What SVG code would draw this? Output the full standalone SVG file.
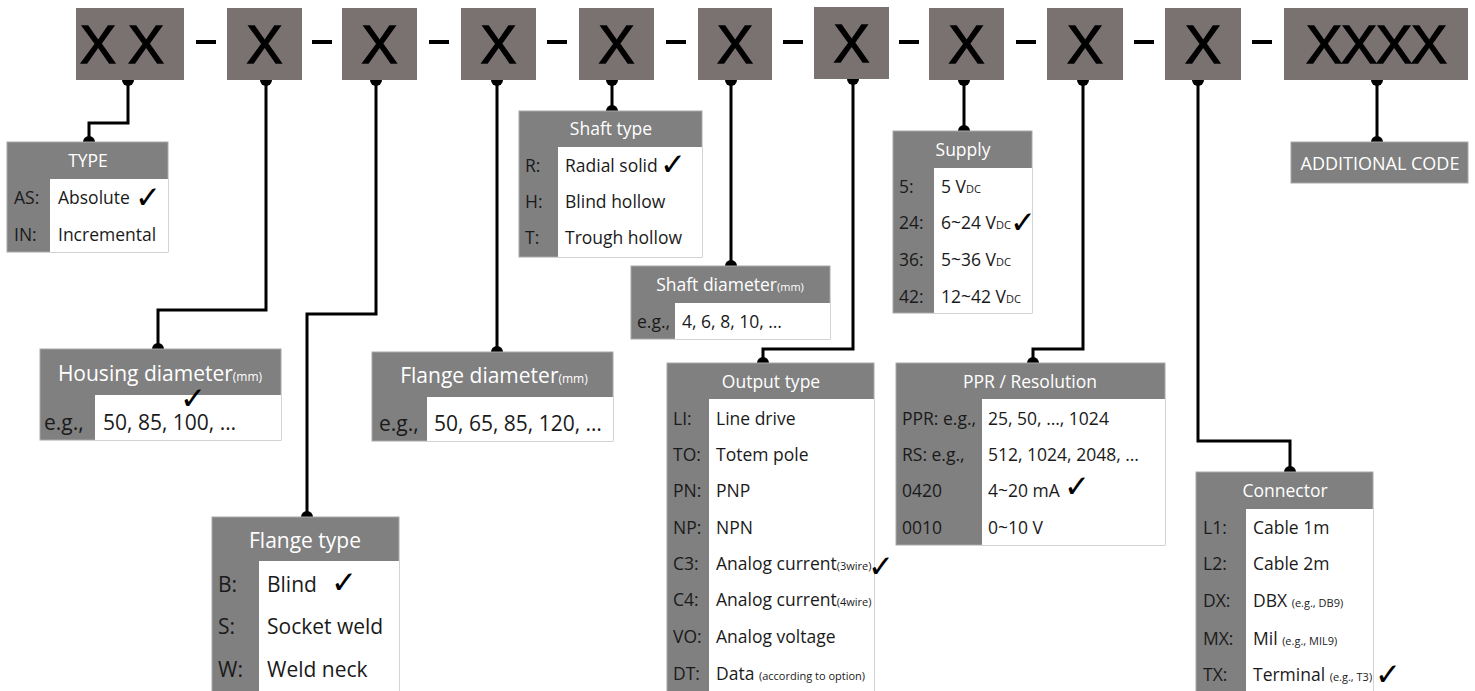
<svg xmlns="http://www.w3.org/2000/svg" width="1475" height="691" viewBox="0 0 1475 691">
<defs>
<style>
.code{fill:#7a7171}
.big{font-family:"Liberation Sans",Arial,sans-serif;font-size:54px;fill:#000;stroke:#000;stroke-width:1.3;text-anchor:middle}
.dash{fill:#000}
.hd{fill:#808080;stroke:#a8a8a8;stroke-width:1}
.wh{fill:#fff}
.ttl{font-family:"Open Sans",sans-serif;font-size:17.5px;fill:#fff;text-anchor:middle}
.ttlL{font-family:"Open Sans",sans-serif;font-size:21px;fill:#fff;text-anchor:middle}
.lb{font-family:"Open Sans",sans-serif;font-size:17.5px;fill:#1a1a1a}
.lbL{font-family:"Open Sans",sans-serif;font-size:21px;fill:#1a1a1a}
.sm{font-size:11px}
.smT{font-size:12px}
.chk{font-family:"DejaVu Sans",sans-serif;font-size:31px;fill:#000}
.ln{fill:none;stroke:#000;stroke-width:3;marker-start:url(#dot);marker-end:url(#dot)}
</style>
<marker id="dot" viewBox="-6 -6 12 12" markerWidth="12" markerHeight="12" markerUnits="userSpaceOnUse" refX="0" refY="0">
<circle r="6" fill="#000"/>
</marker>
</defs>
<rect width="1475" height="691" fill="#fff"/>

<g id="connectors">
<path class="ln" d="M128,80 V123 H89 V142"/>
<path class="ln" d="M266,80 V310 H158 V349"/>
<path class="ln" d="M376,80 V314 H307 V517"/>
<path class="ln" d="M497,80 V352"/>
<path class="ln" d="M612,80 V111"/>
<path class="ln" d="M731,80 V266"/>
<path class="ln" d="M853,79 V349 H763 V363"/>
<path class="ln" d="M964,80 V131"/>
<path class="ln" d="M1083,80 V349 H1033 V363"/>
<path class="ln" d="M1198,80 V441 H1290 V472"/>
<path class="ln" d="M1377,80 V142"/>
</g>

<g id="code">
<rect class="code" x="76" y="8" width="108" height="72"/>
<text class="big" x="128" y="63" letter-spacing="12">XX</text>
<rect class="dash" x="196" y="40" width="20" height="4"/>
<rect class="code" x="227" y="8" width="75" height="72"/>
<text class="big" x="264.5" y="63">X</text>
<rect class="dash" x="312" y="40" width="20" height="4"/>
<rect class="code" x="342" y="8" width="75" height="72"/>
<text class="big" x="379.5" y="63">X</text>
<rect class="dash" x="429" y="40" width="20" height="4"/>
<rect class="code" x="461" y="8" width="75" height="72"/>
<text class="big" x="498.5" y="63">X</text>
<rect class="dash" x="547" y="40" width="20" height="4"/>
<rect class="code" x="579" y="8" width="75" height="72"/>
<text class="big" x="616.5" y="63">X</text>
<rect class="dash" x="666" y="40" width="20" height="4"/>
<rect class="code" x="698" y="8" width="74" height="72"/>
<text class="big" x="735" y="63">X</text>
<rect class="dash" x="783" y="40" width="20" height="4"/>
<rect class="code" x="814" y="7" width="75" height="72"/>
<text class="big" x="851.5" y="62">X</text>
<rect class="dash" x="899" y="40" width="20" height="4"/>
<rect class="code" x="929" y="8" width="75" height="72"/>
<text class="big" x="966.5" y="63">X</text>
<rect class="dash" x="1016" y="40" width="20" height="4"/>
<rect class="code" x="1047" y="8" width="76" height="72"/>
<text class="big" x="1085" y="63">X</text>
<rect class="dash" x="1134" y="40" width="20" height="4"/>
<rect class="code" x="1165" y="8" width="76" height="72"/>
<text class="big" x="1203" y="63">X</text>
<rect class="dash" x="1252" y="40" width="20" height="4"/>
<rect class="code" x="1284" y="8" width="184" height="72"/>
<text class="big" x="1376" y="63" letter-spacing="-1">XXXX</text>
</g>

<g id="type">
<rect class="hd" x="7" y="142" width="161" height="110"/>
<rect class="wh" x="50" y="179" width="118" height="73"/>
<text class="ttl" x="88" y="167">TYPE</text>
<text class="lb" x="14" y="204">AS:</text>
<text class="lb" x="58" y="204">Absolute</text>
<text class="chk" x="135" y="208">✓</text>
<text class="lb" x="14" y="241">IN:</text>
<text class="lb" x="58" y="241">Incremental</text>
</g>

<g id="housing-diameter">
<rect class="hd" x="40" y="349" width="241" height="91"/>
<rect class="wh" x="95" y="395" width="186" height="45"/>
<text class="ttlL" x="160" y="381">Housing diameter<tspan class="smT">(mm)</tspan></text>
<text class="lbL" x="44" y="430">e.g.,</text>
<text class="lbL" x="103" y="430">50, 85, 100, …</text>
<text class="chk" x="180" y="409">✓</text>
</g>

<g id="flange-type">
<rect class="hd" x="212" y="517" width="187" height="176"/>
<rect class="wh" x="259" y="561" width="140" height="132"/>
<text class="ttlL" x="305" y="548">Flange type</text>
<text class="lbL" x="218" y="592">B:</text>
<text class="lbL" x="267" y="592">Blind</text>
<text class="chk" x="331" y="593">✓</text>
<text class="lbL" x="218" y="634">S:</text>
<text class="lbL" x="267" y="634">Socket weld</text>
<text class="lbL" x="218" y="677">W:</text>
<text class="lbL" x="267" y="677">Weld neck</text>
</g>

<g id="flange-diameter">
<rect class="hd" x="372" y="352" width="241" height="89"/>
<rect class="wh" x="427" y="397" width="186" height="44"/>
<text class="ttlL" x="494" y="383">Flange diameter<tspan class="smT">(mm)</tspan></text>
<text class="lbL" x="379" y="431">e.g.,</text>
<text class="lbL" x="434" y="431">50, 65, 85, 120, …</text>
</g>

<g id="shaft-type">
<rect class="hd" x="519" y="111" width="183" height="146"/>
<rect class="wh" x="558" y="147" width="144" height="110"/>
<text class="ttl" x="611" y="135">Shaft type</text>
<text class="lb" x="525" y="172">R:</text>
<text class="lb" x="565" y="172">Radial solid</text>
<text class="chk" x="660" y="175">✓</text>
<text class="lb" x="525" y="208">H:</text>
<text class="lb" x="565" y="208">Blind hollow</text>
<text class="lb" x="525" y="244">T:</text>
<text class="lb" x="565" y="244">Trough hollow</text>
</g>

<g id="shaft-diameter">
<rect class="hd" x="631" y="266" width="199" height="73"/>
<rect class="wh" x="675" y="303" width="155" height="36"/>
<text class="ttl" x="730" y="291">Shaft diameter<tspan class="sm">(mm)</tspan></text>
<text class="lb" x="637" y="328">e.g.,</text>
<text class="lb" x="682" y="328">4, 6, 8, 10, …</text>
</g>

<g id="output-type">
<rect class="hd" x="667" y="363" width="207" height="330"/>
<rect class="wh" x="709" y="399" width="165" height="294"/>
<text class="ttl" x="771" y="388">Output type</text>
<text class="lb" x="673" y="425">LI:</text>
<text class="lb" x="716" y="425">Line drive</text>
<text class="lb" x="673" y="461">TO:</text>
<text class="lb" x="716" y="461">Totem pole</text>
<text class="lb" x="673" y="497">PN:</text>
<text class="lb" x="716" y="497">PNP</text>
<text class="lb" x="673" y="534">NP:</text>
<text class="lb" x="716" y="534">NPN</text>
<text class="lb" x="673" y="570">C3:</text>
<text class="lb" x="716" y="570">Analog current<tspan class="sm">(3wire)</tspan></text>
<text class="chk" x="868" y="577">✓</text>
<text class="lb" x="673" y="606">C4:</text>
<text class="lb" x="716" y="606">Analog current<tspan class="sm">(4wire)</tspan></text>
<text class="lb" x="673" y="643">VO:</text>
<text class="lb" x="716" y="643">Analog voltage</text>
<text class="lb" x="673" y="680">DT:</text>
<text class="lb" x="716" y="680">Data <tspan class="sm">(according to option)</tspan></text>
</g>

<g id="supply">
<rect class="hd" x="893" y="131" width="139" height="182"/>
<rect class="wh" x="934" y="168" width="98" height="145"/>
<text class="ttl" x="963" y="156">Supply</text>
<text class="lb" x="899" y="193">5:</text>
<text class="lb" x="941" y="193">5 V<tspan class="sm">DC</tspan></text>
<text class="lb" x="899" y="229">24:</text>
<text class="lb" x="941" y="229">6~24 V<tspan class="sm">DC</tspan></text>
<text class="chk" x="1010" y="233">✓</text>
<text class="lb" x="899" y="266">36:</text>
<text class="lb" x="941" y="266">5~36 V<tspan class="sm">DC</tspan></text>
<text class="lb" x="899" y="303">42:</text>
<text class="lb" x="941" y="303">12~42 V<tspan class="sm">DC</tspan></text>
</g>

<g id="ppr-resolution">
<rect class="hd" x="896" y="363" width="269" height="182"/>
<rect class="wh" x="982" y="399" width="183" height="146"/>
<text class="ttl" x="1030" y="388">PPR / Resolution</text>
<text class="lb" x="902" y="425">PPR: e.g.,</text>
<text class="lb" x="988" y="425">25, 50, …, 1024</text>
<text class="lb" x="902" y="461">RS: e.g.,</text>
<text class="lb" x="988" y="461">512, 1024, 2048, …</text>
<text class="lb" x="902" y="497">0420</text>
<text class="lb" x="988" y="497">4~20 mA</text>
<text class="chk" x="1064" y="497">✓</text>
<text class="lb" x="902" y="534">0010</text>
<text class="lb" x="988" y="534">0~10 V</text>
</g>

<g id="connector">
<rect class="hd" x="1196" y="472" width="177" height="221"/>
<rect class="wh" x="1246" y="509" width="127" height="184"/>
<text class="ttl" x="1285" y="497">Connector</text>
<text class="lb" x="1203" y="534">L1:</text>
<text class="lb" x="1253" y="534">Cable 1m</text>
<text class="lb" x="1203" y="570">L2:</text>
<text class="lb" x="1253" y="570">Cable 2m</text>
<text class="lb" x="1203" y="607">DX:</text>
<text class="lb" x="1253" y="607">DBX <tspan class="sm">(e.g., DB9)</tspan></text>
<text class="lb" x="1203" y="645">MX:</text>
<text class="lb" x="1253" y="645">Mil <tspan class="sm">(e.g., MIL9)</tspan></text>
<text class="lb" x="1203" y="681">TX:</text>
<text class="lb" x="1253" y="681">Terminal <tspan class="sm">(e.g., T3)</tspan></text>
<text class="chk" x="1375" y="685">✓</text>
</g>

<g id="additional-code">
<rect class="hd" x="1291" y="142" width="177" height="41"/>
<text class="ttl" x="1380" y="170" style="font-size:18px">ADDITIONAL CODE</text>
</g>
</svg>
